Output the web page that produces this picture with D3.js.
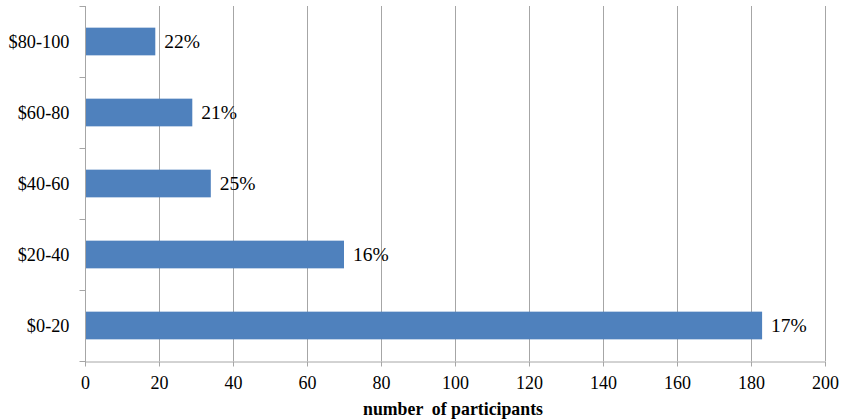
<!DOCTYPE html>
<html><head><meta charset="utf-8">
<script src="https://cdn.jsdelivr.net/npm/d3@7"></script>
<style>body{margin:0;background:#fff}svg{display:block}</style>
</head><body>
<script>
const categories = ["$80-100", "$60-80", "$40-60", "$20-40", "$0-20"];
const values = [19, 29, 34, 70, 183];
const percentLabels = ["22%", "21%", "25%", "16%", "17%"];
const xTicks = [0, 20, 40, 60, 80, 100, 120, 140, 160, 180, 200];
const xTitle = "number  of participants";

const W = 841, H = 420;
const m = {left: 85, right: 16, top: 6, bottom: 59};
const svg = d3.select("body").append("svg").attr("width", W).attr("height", H);
const x = d3.scaleLinear().domain([0, 200]).range([m.left, W - m.right]);
const y = d3.scaleBand().domain(categories).range([m.top, H - m.bottom]).paddingInner(0.61).paddingOuter(0.305);
const yTicksScale = d3.scaleBand().domain(categories).range([m.top, H - m.bottom]);
const grid = "#a6a6a6";
const font = "'Liberation Serif','Times New Roman',serif";

// gridlines
svg.append("g").selectAll("line").data(xTicks.slice(1)).join("line")
  .attr("x1", d => x(d) + 0.5).attr("x2", d => x(d) + 0.5)
  .attr("y1", m.top).attr("y2", H - m.bottom)
  .attr("stroke", grid).attr("stroke-width", 1);

// bars
svg.append("g").selectAll("rect").data(values).join("rect")
  .attr("x", x(0)).attr("y", (d, i) => y(categories[i]))
  .attr("width", d => x(d) - x(0)).attr("height", y.bandwidth())
  .attr("fill", "#4f81bd");

// data labels
svg.append("g").selectAll("text").data(values).join("text")
  .attr("x", d => x(d) + 9).attr("y", (d, i) => y(categories[i]) + y.bandwidth() / 2)
  .attr("dy", "0.35em").attr("font-family", font).attr("font-size", 19.5).attr("fill", "#000")
  .text((d, i) => percentLabels[i]);

// x axis
const xa = svg.append("g").attr("transform", `translate(0,${H - m.bottom + 0.5})`)
  .call(d3.axisBottom(x).tickValues(xTicks).tickSizeOuter(0).tickSizeInner(5).tickPadding(10));
xa.select(".domain").attr("stroke", grid);
xa.selectAll(".tick line").attr("stroke", grid);
xa.selectAll("text").attr("font-family", font).attr("font-size", 18).attr("fill", "#000");

// y axis
const ya = svg.append("g").attr("transform", `translate(${m.left + 0.5},0)`);
ya.append("line").attr("y1", m.top).attr("y2", H - m.bottom + 5).attr("stroke", grid);
const bounds = categories.map(c => yTicksScale(c)).concat([H - m.bottom]);
ya.selectAll("line.t").data(bounds).join("line").attr("class", "t")
  .attr("x1", -6).attr("x2", 0).attr("y1", d => Math.round(d) + 0.5).attr("y2", d => Math.round(d) + 0.5)
  .attr("stroke", grid);
ya.selectAll("text").data(categories).join("text")
  .attr("x", -16).attr("y", d => yTicksScale(d) + yTicksScale.bandwidth() / 2)
  .attr("dy", "0.35em").attr("text-anchor", "end")
  .attr("font-family", font).attr("font-size", 18.3).attr("fill", "#000")
  .text(d => d);

// x title
svg.append("text").attr("x", (x(0) + x(200)) / 2 - 2).attr("y", 415)
  .attr("text-anchor", "middle").attr("font-family", font).attr("font-size", 17.8)
  .attr("font-weight", "bold").style("white-space", "pre").text(xTitle);
</script>
</body></html>
